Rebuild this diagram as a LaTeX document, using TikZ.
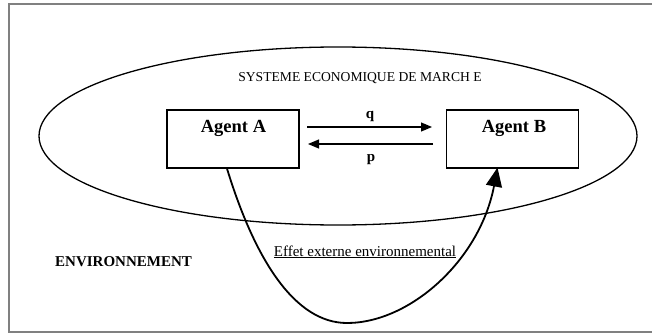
\documentclass[tikz,border=0pt]{standalone}
\usepackage{fontspec}
\setmainfont{Liberation Serif}
\usetikzlibrary{arrows.meta}
\begin{document}
\begin{tikzpicture}[x=1pt,y=-1pt,
  agentbox/.style={draw,line width=1.2pt,minimum width=132pt,minimum height=58pt,inner sep=0pt},
  agenttxt/.style={font=\fontsize{18.5}{21}\selectfont\bfseries},
  flow/.style={line width=1.2pt,-{Triangle[length=11pt,width=9pt]}},
  lbl/.style={font=\fontsize{15}{18}\selectfont\bfseries,inner sep=0pt}]
\useasboundingbox (0,0) rectangle (652,334);
\draw[black!50,line width=2.6pt] (652,4) -- (9,4) -- (9,332) -- (652,332);
\draw[line width=1.3pt] (338,136) ellipse [x radius=299, y radius=89];
\node[font=\fontsize{13.6}{16}\selectfont,inner sep=0pt] (sys) at (360,78) {SYSTEME ECONOMIQUE DE MARCH E};
\node[agentbox] (A) at (233,139) {};
\node[agentbox] (B) at (512.5,139) {};
\node[agenttxt] (At) at (233.5,128) {Agent A};
\node[agenttxt] (Bt) at (514,128) {Agent B};
\coordinate (q1) at (307,127);
\coordinate (q2) at (432,127);
\coordinate (p1) at (433,144);
\coordinate (p2) at (308,144);
\draw[flow] (q1) -- (q2);
\draw[flow] (p1) -- (p2);
\node[lbl] (q) at (370,116) {q};
\node[lbl] (p) at (371,160) {p};
\node[font=\fontsize{15}{18}\selectfont\bfseries,anchor=base west,inner sep=0pt] (env) at (55,266.5) {ENVIRONNEMENT};
\node[font=\fontsize{15}{18}\selectfont,anchor=base,inner sep=0pt] (eff) at (365,256) {\underline{Effet externe environnemental}};
\coordinate (bot) at (347,323);
\draw[line width=1.8pt,-{Triangle[length=19pt,width=16pt]}] ([xshift=-6pt]A.south) .. controls (255,260) and (295,323) .. (bot)
  .. controls (410,323) and (480,260) .. ([xshift=-15pt,yshift=1pt]B.south);
\end{tikzpicture}
\end{document}
